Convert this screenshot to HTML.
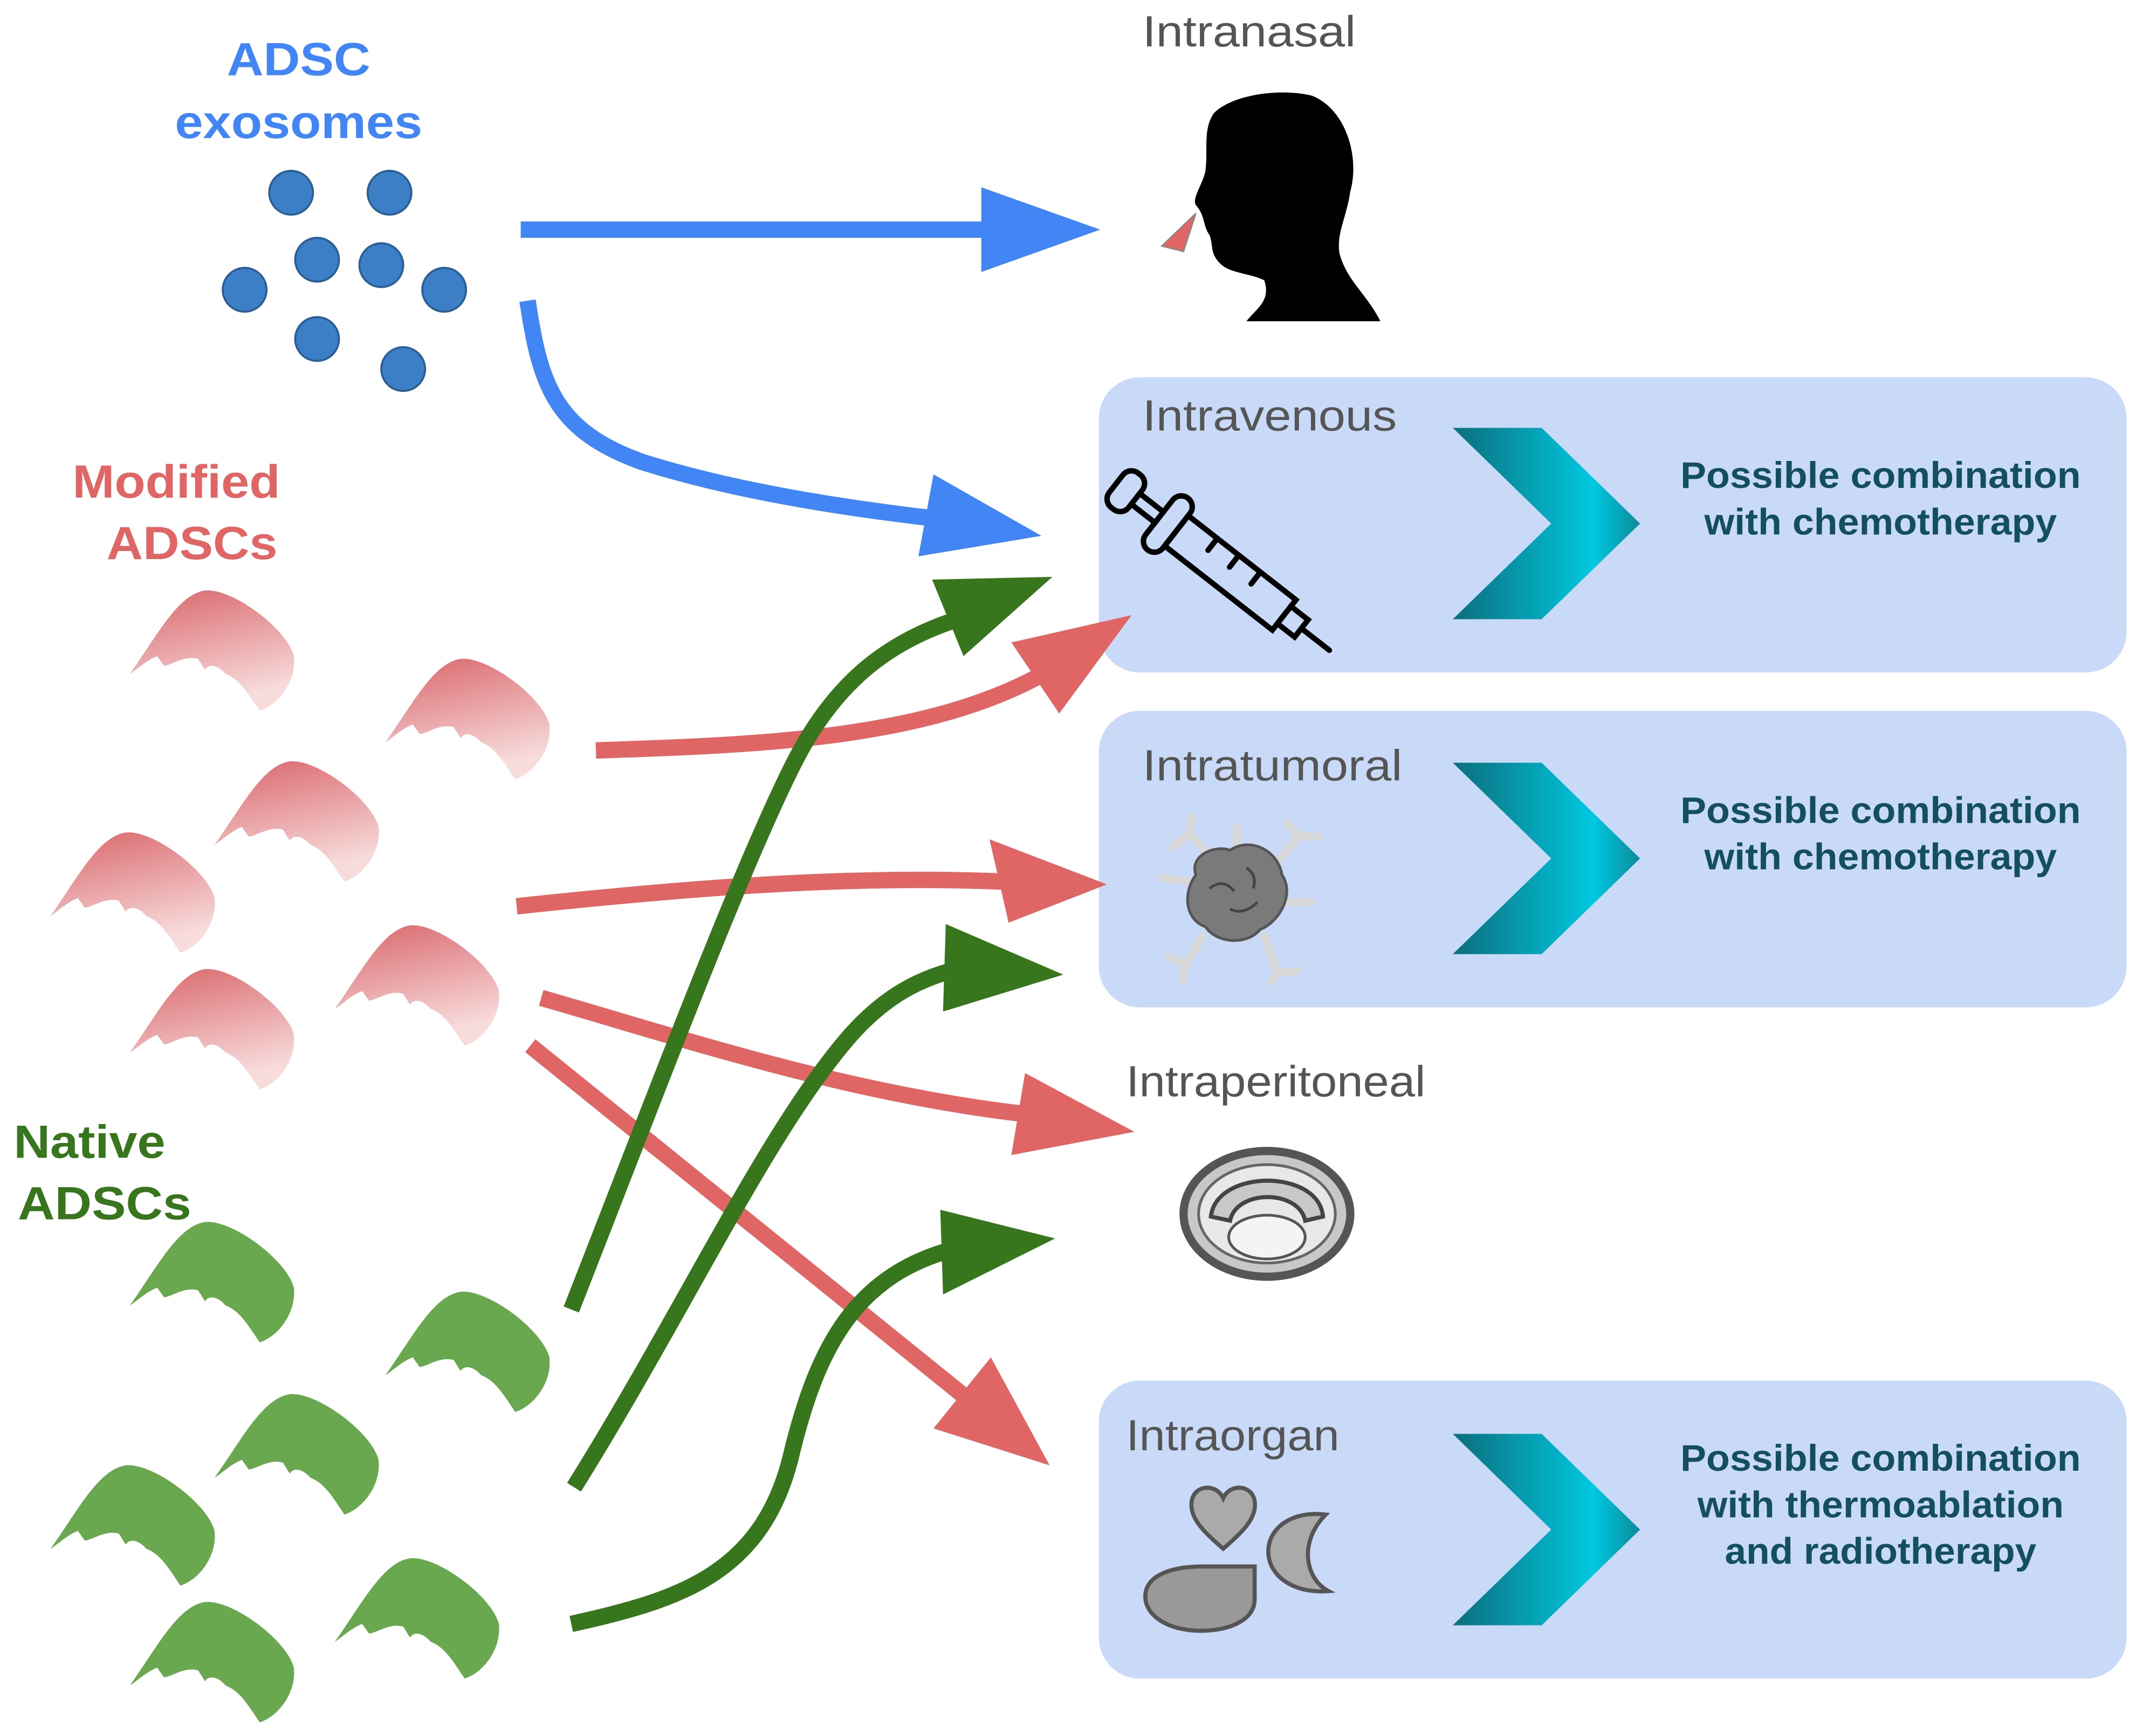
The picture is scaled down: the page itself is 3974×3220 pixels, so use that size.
<!DOCTYPE html>
<html><head><meta charset="utf-8"><style>
html,body{margin:0;padding:0;background:#fff}
svg{display:block}
text{font-family:"Liberation Sans",Arial,sans-serif}
</style></head><body>
<svg width="3974" height="3220" viewBox="0 0 1568 1270" preserveAspectRatio="none" xmlns="http://www.w3.org/2000/svg">
<defs>
<linearGradient id="chev" x1="0" y1="0" x2="1" y2="0">
<stop offset="0" stop-color="#0b6e7c"/><stop offset="0.75" stop-color="#00c8e0"/><stop offset="1" stop-color="#0b8a9a"/>
</linearGradient>
<linearGradient id="pink" x1="0" y1="0" x2="0.3" y2="1">
<stop offset="0" stop-color="#d9666b"/><stop offset="1" stop-color="#f8dcdc"/>
</linearGradient>
<path id="cell" d="M-60,18 C-40,-10 -25,-40 -5,-43 C15,-45 55,-15 60,5 C62,22 50,40 35,45 C25,30 20,22 10,18 C5,12 -2,10 -5,15 L-10,7 C-20,4 -30,12 -35,12 L-40,5 C-48,8 -55,15 -60,18 Z"/>
</defs>
<rect width="1568" height="1270" fill="#fff"/>

<rect x="804" y="276" width="752" height="216" rx="30" fill="#c9daf8"/>
<rect x="804" y="520" width="752" height="217" rx="30" fill="#c9daf8"/>
<rect x="804" y="1010" width="752" height="218" rx="30" fill="#c9daf8"/>

<g fill="url(#chev)">
<polygon points="1063,313 1128,313 1200,383 1128,453 1063,453 1135,383"/>
<polygon points="1063,558 1128,558 1200,628 1128,698 1063,698 1135,628"/>
<polygon points="1063,1049 1128,1049 1200,1119 1128,1189 1063,1189 1135,1119"/>
</g>

<g font-size="27" font-weight="bold" fill="#134f5c" text-anchor="middle" lengthAdjust="spacingAndGlyphs">
<text x="1376" y="357" textLength="293" lengthAdjust="spacingAndGlyphs">Possible combination</text>
<text x="1376" y="391" textLength="258" lengthAdjust="spacingAndGlyphs">with chemotherapy</text>
<text x="1376" y="602" textLength="293" lengthAdjust="spacingAndGlyphs">Possible combination</text>
<text x="1376" y="636" textLength="258" lengthAdjust="spacingAndGlyphs">with chemotherapy</text>
<text x="1376" y="1076" textLength="293" lengthAdjust="spacingAndGlyphs">Possible combination</text>
<text x="1376" y="1110" textLength="268" lengthAdjust="spacingAndGlyphs">with thermoablation</text>
<text x="1376" y="1144" textLength="228" lengthAdjust="spacingAndGlyphs">and radiotherapy</text>
</g>

<g font-size="32" fill="#555">
<text x="836" y="34" textLength="156" lengthAdjust="spacingAndGlyphs">Intranasal</text>
<text x="836" y="315" textLength="186" lengthAdjust="spacingAndGlyphs">Intravenous</text>
<text x="836" y="571" textLength="190" lengthAdjust="spacingAndGlyphs">Intratumoral</text>
<text x="824" y="802" textLength="219" lengthAdjust="spacingAndGlyphs">Intraperitoneal</text>
<text x="824" y="1061" textLength="156" lengthAdjust="spacingAndGlyphs">Intraorgan</text>
</g>

<g font-size="34" font-weight="bold">
<text x="166" y="55" fill="#4285f4" textLength="105" lengthAdjust="spacingAndGlyphs">ADSC</text>
<text x="128" y="101" fill="#4285f4" textLength="181" lengthAdjust="spacingAndGlyphs">exosomes</text>
<text x="53" y="364" fill="#e06666" textLength="152" lengthAdjust="spacingAndGlyphs">Modified</text>
<text x="78" y="409" fill="#e06666" textLength="125" lengthAdjust="spacingAndGlyphs">ADSCs</text>
<text x="10" y="847" fill="#38761d" textLength="111" lengthAdjust="spacingAndGlyphs">Native</text>
<text x="13" y="892" fill="#38761d" textLength="127" lengthAdjust="spacingAndGlyphs">ADSCs</text>
</g>

<g fill="#3d7fc6" stroke="#2a5f95" stroke-width="1.5">
<circle cx="213" cy="141" r="16"/><circle cx="285" cy="141" r="16"/>
<circle cx="232" cy="190" r="16"/><circle cx="279" cy="194" r="16"/>
<circle cx="179" cy="212" r="16"/><circle cx="325" cy="212" r="16"/>
<circle cx="232" cy="248" r="16"/><circle cx="295" cy="270" r="16"/>
</g>

<g fill="url(#pink)">
<use href="#cell" x="155" y="475"/><use href="#cell" x="342" y="525"/>
<use href="#cell" x="217" y="600"/><use href="#cell" x="97" y="652"/>
<use href="#cell" x="305" y="720"/><use href="#cell" x="155" y="752"/>
</g>
<g fill="#6aa84f">
<use href="#cell" x="155" y="937"/><use href="#cell" x="342" y="988"/>
<use href="#cell" x="217" y="1063"/><use href="#cell" x="97" y="1115"/>
<use href="#cell" x="305" y="1183"/><use href="#cell" x="155" y="1215"/>
</g>

<path d="M888,83 C900,70 935,64 960,70 C985,80 995,115 988,140 C985,160 978,170 980,185 C985,205 1000,215 1010,235 L912,235 C920,225 930,220 925,205 C915,200 900,200 893,193 C885,185 888,180 885,172 C880,165 882,158 875,150 C872,145 880,135 882,125 C884,110 880,95 888,83 Z" fill="#000"/>
<polygon points="850,180 875,156 866,184" fill="#e06666" stroke="#888" stroke-width="1"/>

<g transform="translate(886,408) rotate(38)" fill="none" stroke="#000" stroke-width="4" stroke-linecap="round">
<rect x="-88" y="-16" width="18" height="32" rx="8"/>
<line x1="-70" y1="-5" x2="-48" y2="-5"/><line x1="-70" y1="5" x2="-48" y2="5"/>
<rect x="-48" y="-24" width="16" height="48" rx="8"/>
<rect x="-32" y="-14" width="100" height="28"/>
<line x1="-5" y1="-14" x2="-5" y2="-3"/><line x1="15" y1="-14" x2="15" y2="-3"/><line x1="35" y1="-14" x2="35" y2="-3"/>
<rect x="68" y="-8" width="16" height="16"/>
<line x1="84" y1="0" x2="110" y2="0"/>
</g>

<g stroke="#d8d8d8" stroke-width="6" fill="none" stroke-linecap="round">
<path d="M870,610 L888,628 M858,620 L870,610 L872,598"/>
<path d="M935,630 L950,612 M942,602 L950,612 L965,612"/>
<path d="M880,685 L868,705 M855,700 L868,705 L865,718"/>
<path d="M925,685 L935,712 M930,718 L935,712 L950,710"/>
<path d="M850,642 L870,645 M905,605 L905,625 M940,660 L960,660"/>
</g>
<path d="M875,640 C870,625 890,618 900,622 C915,612 935,622 938,640 C948,655 935,675 922,680 C912,692 890,690 882,678 C866,672 866,652 875,640 Z" fill="#7a7a7a" stroke="#555" stroke-width="2"/>
<path d="M885,650 q10,-8 18,2 M900,665 q10,5 20,-5 M912,635 q8,5 5,15" stroke="#444" stroke-width="2" fill="none"/>

<ellipse cx="927" cy="888" rx="61" ry="46" fill="#c8c8c8" stroke="#555" stroke-width="6"/>
<ellipse cx="927" cy="888" rx="50" ry="36" fill="#e8e8e8" stroke="#666" stroke-width="2"/>
<path d="M886,890 C890,855 965,855 968,890 L955,893 C950,870 905,870 900,893 Z" fill="#c8c8c8" stroke="#444" stroke-width="3"/>
<ellipse cx="927" cy="905" rx="28" ry="16" fill="#f4f4f4" stroke="#555" stroke-width="2"/>

<path d="M895,1133 C880,1120 870,1110 872,1098 C874,1086 890,1085 895,1096 C900,1085 916,1086 918,1098 C920,1110 910,1120 895,1133 Z" fill="#aaa" stroke="#555" stroke-width="3"/>
<path d="M970,1108 C945,1105 928,1118 928,1135 C928,1152 945,1166 972,1164 C955,1155 950,1128 970,1108 Z" fill="#aaa" stroke="#555" stroke-width="3"/>
<path d="M918,1146 L918,1170 C918,1185 900,1193 878,1193 C855,1193 838,1182 838,1168 C838,1152 858,1146 880,1146 Z" fill="#999" stroke="#555" stroke-width="3"/>

<g stroke="#4285f4" stroke-width="12" fill="none">
<line x1="381" y1="168" x2="725" y2="168"/>
<path d="M386,220 C395,280 405,315 470,338 C540,360 620,372 690,380"/>
</g>
<g fill="#4285f4">
<polygon points="718,137 805,168 718,199"/>
<polygon points="672,407 683,347 762,392"/>
</g>

<g stroke="#e06666" stroke-width="12" fill="none">
<path d="M436,549 C560,545 680,540 765,492"/>
<path d="M378,663 C500,650 620,640 735,645"/>
<path d="M396,730 C500,760 620,800 750,815"/>
<line x1="388" y1="765" x2="710" y2="1025"/>
</g>
<g fill="#e06666">
<polygon points="740,470 828,450 775,522"/>
<polygon points="724,614 810,647 738,675"/>
<polygon points="750,785 830,828 740,845"/>
<polygon points="683,1045 768,1072 725,993"/>
</g>

<g stroke="#38761d" stroke-width="12" fill="none">
<path d="M418,958 C480,800 540,640 580,560 C615,490 660,465 710,450"/>
<path d="M420,1088 C500,960 560,830 620,760 C650,725 680,712 715,706"/>
<path d="M418,1188 C500,1170 560,1150 580,1060 C600,980 630,925 715,910"/>
</g>
<g fill="#38761d">
<polygon points="682,424 770,422 705,480"/>
<polygon points="692,676 778,713 690,740"/>
<polygon points="688,885 772,906 690,947"/>
</g>
</svg>
</body></html>
